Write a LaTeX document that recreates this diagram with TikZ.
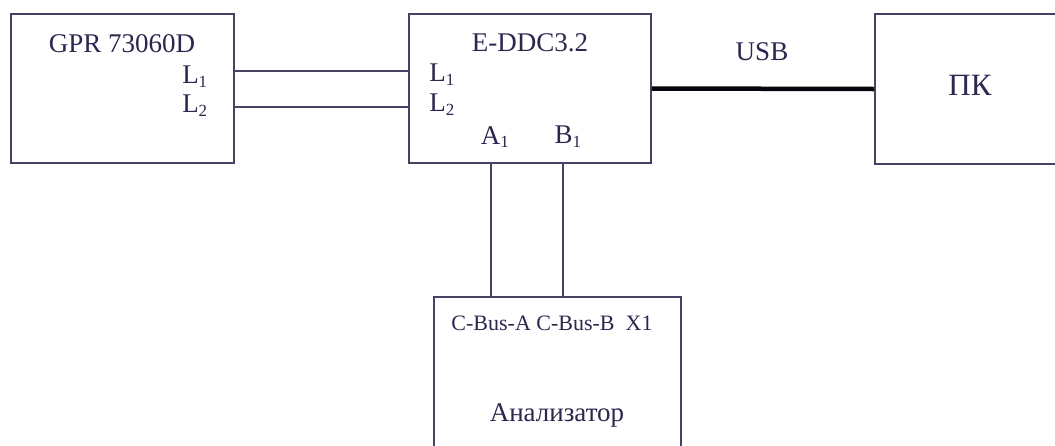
\documentclass[tikz,border=0pt]{standalone}
\usepackage{fontspec}
\setmainfont{Liberation Serif}
\usetikzlibrary{positioning}
\usetikzlibrary{calc}
\definecolor{inkc}{RGB}{42,40,78}
\definecolor{wirec}{RGB}{70,66,100}
\newcommand{\sub}[1]{\textsubscript{\fontsize{17}{17}\selectfont #1}}
\tikzset{blp/.style={
  x=1pt,
  y=-1pt,
  font=\fontsize{27}{30}\selectfont,
  text=inkc
}}
\tikzset{blk/.style={
  draw=wirec,
  line width=1.6pt,
  shape=rectangle,
  inner sep=0pt
}}
\tikzset{lbl/.style={inner sep=0pt}}
\tikzset{wire/.style={draw=wirec,line width=1.5pt}}
\tikzset{usbw/.style={draw=black!85!inkc,line width=4.5pt}}

\begin{document}
\begin{tikzpicture}[blp]
    \clip (0,0) rectangle (1055,445);
    \fill[white] (0,0) rectangle (1055,445);

    % Blocks
    \node[blk,minimum width=223pt,minimum height=149pt] (gpr) at (122.5,88.5) {};
    \node[blk,minimum width=242pt,minimum height=149pt] (ddc) at (530,88.5) {};
    \node[blk,minimum width=220pt,minimum height=150pt] (pc) at (985,89) {};
    \node[blk,minimum width=247pt,minimum height=180pt] (ana) at (557.5,387) {};

    % Block texts
    \node[lbl] (gprname) at (122,44) {GPR 73060D};
    \node[lbl] (gprl1) at (195,77) {L\sub{1}};
    \node[lbl] (gprl2) at (195,106) {L\sub{2}};
    \node[lbl] (ddcname) at (530,43) {E-DDC3.2};
    \node[lbl] (ddcl1) at (442,75) {L\sub{1}};
    \node[lbl] (ddcl2) at (442,105) {L\sub{2}};
    \node[lbl] (ddca) at (495,137) {A\sub{1}};
    \node[lbl] (ddcb) at (568,137) {B\sub{1}};
    \node[lbl] (pcname) at (970,85) {\fontsize{31}{33}\selectfont ПК};
    \node[lbl] (anabus) at (552,323) {\fontsize{22}{24}\selectfont C-Bus-A C-Bus-B\ \ X1};
    \node[lbl] (ananame) at (557,415) {Анализатор};
    \node[lbl] (usbname) at (762,52) {USB};

    % Wires
    \coordinate (w1) at (0,71);
    \coordinate (w2) at (0,107);
    \coordinate (ca) at (491,0);
    \coordinate (cb) at (563,0);
    \draw[wire] (w1 -| gpr.east) -- (w1 -| ddc.west);
    \draw[wire] (w2 -| gpr.east) -- (w2 -| ddc.west);
    \draw[wire] (ddc.south -| ca) -- (ana.north -| ca);
    \draw[wire] (ddc.south -| cb) -- (ana.north -| cb);
    \draw[usbw] (ddc.east) -- (pc.west);

  \end{tikzpicture}
\end{document}
